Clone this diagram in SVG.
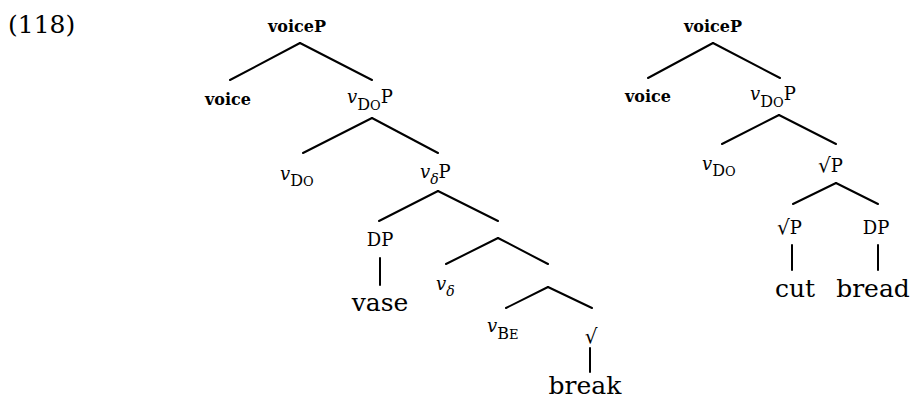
<svg xmlns="http://www.w3.org/2000/svg" width="914" height="400" viewBox="0 0 914 400">
<style>
text { font-family: "DejaVu Serif", "Liberation Serif", serif; fill: #000; }
.n { font-size: 18px; }
.c { text-anchor: middle; }
.b { font-weight: bold; }
.leaf { font-size: 25px; text-anchor: middle; }
.i { font-style: italic; }
.e line { stroke: #000; stroke-width: 2; stroke-linecap: round; }
</style>
<rect width="914" height="400" fill="#fff"/>
<text x="8" y="33" style="font-size:25px">(118)</text>

<g id="edges" class="e">
  <line x1="300" y1="43" x2="230" y2="80"/>
  <line x1="300" y1="43" x2="372" y2="80"/>
  <line x1="372" y1="118" x2="303" y2="153"/>
  <line x1="372" y1="118" x2="438" y2="153"/>
  <line x1="438" y1="191" x2="379" y2="221"/>
  <line x1="438" y1="191" x2="498" y2="221"/>
  <line x1="380" y1="258" x2="380" y2="285"/>
  <line x1="498" y1="238" x2="446" y2="264"/>
  <line x1="498" y1="238" x2="548" y2="264"/>
  <line x1="548" y1="287" x2="506" y2="308"/>
  <line x1="548" y1="287" x2="592" y2="308"/>
  <line x1="590" y1="348" x2="590" y2="372"/>
  <line x1="713" y1="43" x2="648" y2="78"/>
  <line x1="713" y1="43" x2="780" y2="78"/>
  <line x1="779" y1="115" x2="722" y2="144"/>
  <line x1="779" y1="115" x2="836" y2="144"/>
  <line x1="836" y1="183" x2="793" y2="204"/>
  <line x1="836" y1="183" x2="878" y2="204"/>
  <line x1="792" y1="245" x2="792" y2="270"/>
  <line x1="878" y1="245" x2="878" y2="270"/>
</g>

<g id="l-voiceP"><text class="n c b" x="297" y="32" style="font-size:16px">voiceP</text></g>
<g id="l-voice"><text class="n c b" x="228" y="105" style="font-size:16px">voice</text></g>
<g id="l-vDoP"><text class="n" x="347" y="103"><tspan class="i">v</tspan><tspan dy="7" font-size="16">D</tspan><tspan font-size="13">O</tspan><tspan dy="-7">P</tspan></text></g>
<g id="l-vDo"><text class="n" x="280" y="180"><tspan class="i">v</tspan><tspan dy="6" font-size="16">D</tspan><tspan font-size="13">O</tspan></text></g>
<g id="l-vdeltaP"><text class="n" x="420" y="178"><tspan class="i">v</tspan><tspan class="i" dy="6" font-size="14">δ</tspan><tspan dy="-6">P</tspan></text></g>
<g id="l-DP"><text class="n c" x="380" y="246">DP</text></g>
<g id="l-vase"><text class="leaf" x="380" y="311">vase</text></g>
<g id="l-vdelta"><text class="n" x="436" y="290"><tspan class="i">v</tspan><tspan class="i" dy="6" font-size="14">δ</tspan></text></g>
<g id="l-vBE"><text class="n" x="487" y="332"><tspan class="i">v</tspan><tspan dy="7" font-size="16">B</tspan><tspan font-size="13">E</tspan></text></g>
<g id="l-root"><text class="n c" x="591" y="343" style="font-size:20px">√</text></g>
<g id="l-break"><text class="leaf" x="585" y="394">break</text></g>

<g id="r-voiceP"><text class="n c b" x="713" y="32" style="font-size:16px">voiceP</text></g>
<g id="r-voice"><text class="n c b" x="648" y="102" style="font-size:16px">voice</text></g>
<g id="r-vDoP"><text class="n" x="750" y="100"><tspan class="i">v</tspan><tspan dy="7" font-size="16">D</tspan><tspan font-size="13">O</tspan><tspan dy="-7">P</tspan></text></g>
<g id="r-vDo"><text class="n" x="702" y="170"><tspan class="i">v</tspan><tspan dy="6" font-size="16">D</tspan><tspan font-size="13">O</tspan></text></g>
<g id="r-rootP"><text class="n" x="818" y="172"><tspan style="font-size:20px">√</tspan>P</text></g>
<g id="r-rootP2"><text class="n" x="777" y="234"><tspan style="font-size:20px">√</tspan>P</text></g>
<g id="r-DP"><text class="n c" x="876" y="234">DP</text></g>
<g id="r-cut"><text class="leaf" x="795" y="297">cut</text></g>
<g id="r-bread"><text class="leaf" x="873" y="297">bread</text></g>
</svg>
